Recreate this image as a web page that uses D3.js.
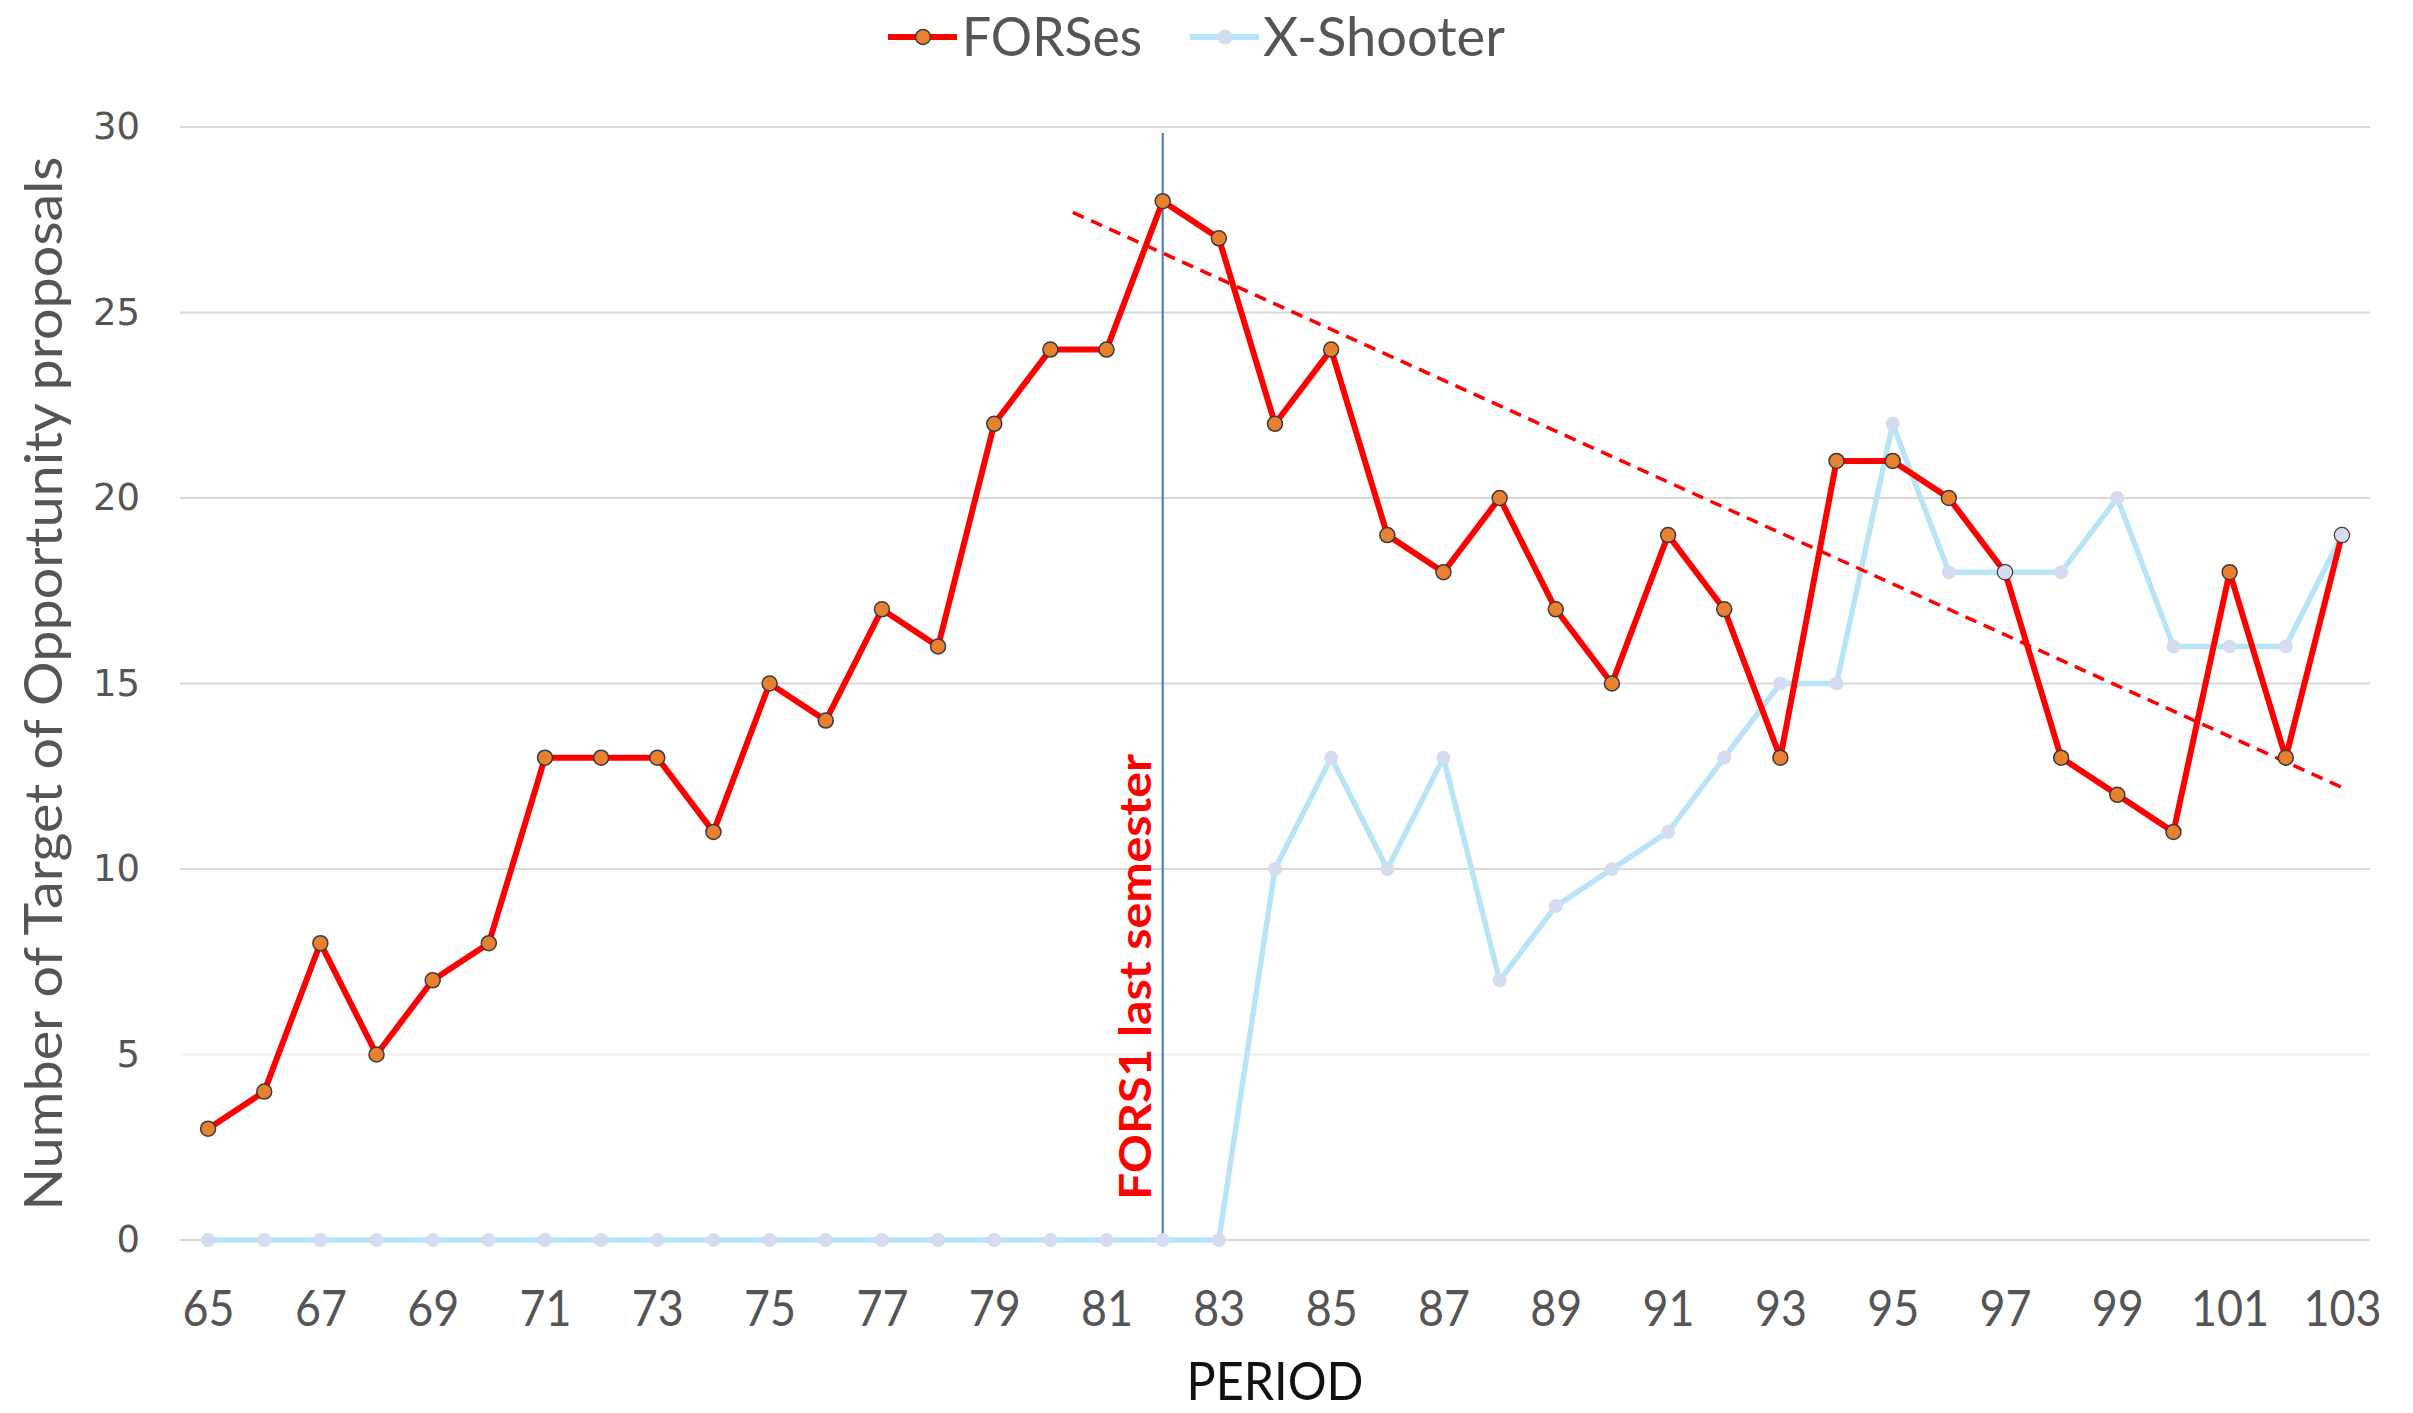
<!DOCTYPE html>
<html><head><meta charset="utf-8">
<script src="https://cdn.jsdelivr.net/npm/d3@7"></script>
<style>html,body{margin:0;padding:0;background:#fff;} svg{display:block}</style>
</head><body><svg id="chart" width="2413" height="1413"></svg>
<script>
const periods  = [65,66,67,68,69,70,71,72,73,74,75,76,77,78,79,80,81,82,83,84,85,86,87,88,89,90,91,92,93,94,95,96,97,98,99,100,101,102,103];
const forses   = [3,4,8,5,7,8,13,13,13,11,15,14,17,16,22,24,24,28,27,22,24,19,18,20,17,15,19,17,13,21,21,20,18,13,12,11,18,13,19];
const xshooter = [0,0,0,0,0,0,0,0,0,0,0,0,0,0,0,0,0,0,0,10,13,10,13,7,9,10,11,13,15,15,22,18,18,18,20,16,16,16,19];
const yTicks = [0,5,10,15,20,25,30];
const xTicks = [65,67,69,71,73,75,77,79,81,83,85,87,89,91,93,95,97,99,101,103];
const seriesNames = ["FORSes","X-Shooter"];
const markerPeriod = 82;
const annotationText = "FORS1 last semester";
const trendPeriods = [80.4, 103];
const trendValues  = [27.7, 12.2];
const yTitle = "Number of Target of Opportunity proposals";
const xTitle = "PERIOD";

const W = 2413, H = 1413;
const L = 180, R = 2370, T = 127, B = 1240;
const svg = d3.select("#chart");
svg.append("rect").attr("width", W).attr("height", H).attr("fill", "#fff");

const x = d3.scaleLinear().domain([64.5, 103.5]).range([L, R]);
const y = d3.scaleLinear().domain([0, 30]).range([B, T]);

const redC = "#FF0000", orange = "#E8802F", blueC = "#B8E4F7", lav = "#D5DCF1", txt = "#555555";

// gridlines
svg.append("g").selectAll("line").data(yTicks).join("line")
  .attr("x1", L).attr("x2", R)
  .attr("y1", d => y(d)).attr("y2", d => y(d))
  .attr("stroke", d => d === 5 ? "#F0F0F0" : "#D9D9D9").attr("stroke-width", 2);

// y axis
const ya = svg.append("g").attr("transform", `translate(${L},0)`)
  .call(d3.axisLeft(y).tickValues(yTicks).tickSize(0).tickPadding(40));
ya.select(".domain").remove();
ya.selectAll("text").attr("font-family", "DejaVu Sans").attr("font-size", 37).attr("fill", txt);

// x axis
const xa = svg.append("g").attr("transform", `translate(0,${B})`)
  .call(d3.axisBottom(x).tickValues(xTicks).tickSize(0).tickPadding(50));
xa.select(".domain").remove();
xa.selectAll("text").attr("font-family", "Lato").attr("font-size", 50).attr("fill", txt)
  .attr("textLength", d => String(d).length * 26).attr("lengthAdjust", "spacingAndGlyphs");

// vertical marker line
svg.append("line").attr("x1", x(markerPeriod)).attr("x2", x(markerPeriod))
  .attr("y1", y(30) + 6).attr("y2", y(0))
  .attr("stroke", "#4472C4").attr("stroke-width", 2);

// annotation
svg.append("text")
  .attr("transform", `translate(${x(markerPeriod) - 12},1200) rotate(-90)`)
  .attr("font-family", "Lato").attr("font-weight", "bold").attr("font-size", 44)
  .attr("fill", redC).attr("textLength", 446).attr("lengthAdjust", "spacingAndGlyphs")
  .text(annotationText);

const line = d3.line().x((d, i) => x(periods[i])).y(d => y(d));

// series lines
svg.append("path").datum(xshooter).attr("d", line)
  .attr("fill", "none").attr("stroke", blueC).attr("stroke-width", 5.5).attr("stroke-linejoin", "round");
svg.append("path").datum(forses).attr("d", line)
  .attr("fill", "none").attr("stroke", redC).attr("stroke-width", 6).attr("stroke-linejoin", "round");

// trend line
svg.append("line")
  .attr("x1", x(trendPeriods[0])).attr("y1", y(trendValues[0]))
  .attr("x2", x(trendPeriods[1])).attr("y2", y(trendValues[1]))
  .attr("stroke", redC).attr("stroke-width", 3.5).attr("stroke-dasharray", "12,8");

// markers
svg.append("g").selectAll("circle").data(forses).join("circle")
  .attr("cx", (d, i) => x(periods[i])).attr("cy", d => y(d)).attr("r", 7.5)
  .attr("fill", orange).attr("stroke", "#3a3a3a").attr("stroke-width", 1.5);
svg.append("g").selectAll("circle").data(xshooter).join("circle")
  .attr("cx", (d, i) => x(periods[i])).attr("cy", d => y(d)).attr("r", 7)
  .attr("fill", lav);

// axis titles
svg.append("text")
  .attr("transform", `translate(62,${(T + B) / 2}) rotate(-90)`)
  .attr("text-anchor", "middle").attr("font-family", "Lato").attr("font-size", 52)
  .attr("fill", txt).attr("textLength", 1054).attr("lengthAdjust", "spacingAndGlyphs")
  .text(yTitle);
svg.append("text")
  .attr("x", (L + R) / 2).attr("y", 1400).attr("text-anchor", "middle")
  .attr("font-family", "Lato").attr("font-size", 52).attr("fill", "#111")
  .attr("textLength", 177).attr("lengthAdjust", "spacingAndGlyphs")
  .text(xTitle);

// legend
const legend = [
  {name: seriesNames[0], x0: 888, tx: 962, tw: 180, lc: redC, mf: orange, ms: "#3a3a3a"},
  {name: seriesNames[1], x0: 1190, tx: 1263, tw: 242, lc: blueC, mf: lav, ms: "none"}
];
const lg = svg.append("g");
legend.forEach(l => {
  lg.append("line").attr("x1", l.x0).attr("x2", l.x0 + 69).attr("y1", 37).attr("y2", 37)
    .attr("stroke", l.lc).attr("stroke-width", 6);
  lg.append("circle").attr("cx", l.x0 + 35).attr("cy", 37).attr("r", 7.5)
    .attr("fill", l.mf).attr("stroke", l.ms).attr("stroke-width", 1.5);
  lg.append("text").attr("x", l.tx).attr("y", 56)
    .attr("font-family", "Lato").attr("font-size", 54).attr("fill", txt)
    .attr("textLength", l.tw).attr("lengthAdjust", "spacingAndGlyphs")
    .text(l.name);
});
</script></body></html>
